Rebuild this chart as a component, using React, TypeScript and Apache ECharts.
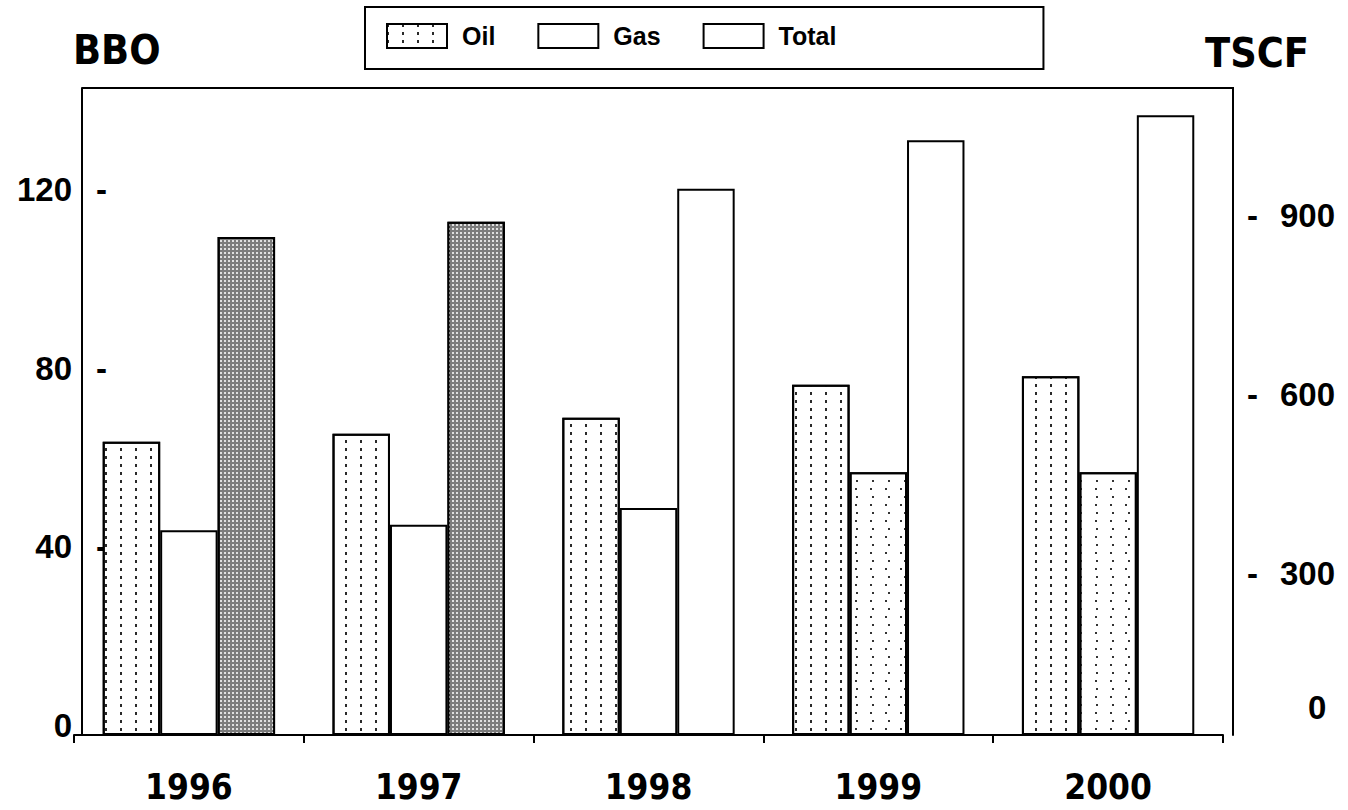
import React, { useEffect, useRef } from 'react';
import * as echarts from 'echarts';

const years = ['1996', '1997', '1998', '1999', '2000'];
const seriesNames = ['Oil', 'Gas', 'Total'];
const oilBBO = [65.7, 67.5, 71.1, 78.5, 80.4];
const gasBBOE = [45.9, 47.1, 50.9, 58.9, 58.9];
const totalBBOE = [111.6, 115.0, 122.4, 133.3, 138.9];
const gasDotted = [false, false, false, true, true];
const totalShaded = [true, true, false, false, false];
const leftMax = 145;
const leftInterval = 40;
const rightMax = 1084;
const rightInterval = 300;

const NUM_FONT = "'Liberation Sans', Arial, sans-serif";
const TITLE_FONT = "'DejaVu Sans Condensed', 'DejaVu Sans', sans-serif";

const oilDecal = {
  symbol: 'rect',
  symbolSize: 1,
  color: '#2a2a2a',
  dashArrayX: [2, 13],
  dashArrayY: [3, 5],
  rotation: 0,
};
const gasDecal = {
  symbol: 'rect',
  symbolSize: 1,
  color: '#333',
  dashArrayX: [[2, 13], [0, 7.5, 2, 5.5]],
  dashArrayY: [2, 5.5],
  rotation: 0,
};
const totalDecal = {
  symbol: 'rect',
  symbolSize: 1,
  color: '#e0e0e0',
  dashArrayX: [2, 2],
  dashArrayY: [2, 2],
  rotation: 0,
};

const numTok = { fontFamily: NUM_FONT, fontWeight: 'bold', fontSize: 33, color: '#000' };

export default function App() {
  const ref = useRef<HTMLDivElement>(null);
  useEffect(() => {
    if (!ref.current) return;
    const chart = echarts.init(ref.current, undefined, { renderer: 'svg' });
    const border = { borderColor: '#000', borderWidth: 2 };
    chart.setOption({
      animation: false,
      backgroundColor: '#fff',
      title: [
        {
          text: 'BBO', left: 73, top: 29, padding: 0,
          textStyle: { fontFamily: TITLE_FONT, fontWeight: 'bold', fontSize: 41, color: '#000' },
        },
        {
          text: 'TSCF', left: 1205, top: 32, padding: 0,
          textStyle: { fontFamily: TITLE_FONT, fontWeight: 'bold', fontSize: 41, color: '#000' },
        },
      ],
      legend: {
        data: seriesNames,
        left: 365,
        top: 7,
        orient: 'horizontal',
        icon: 'rect',
        itemWidth: 60,
        itemHeight: 24,
        itemGap: 42,
        padding: [16, 207, 20, 21],
        borderColor: '#000',
        borderWidth: 2,
        selectedMode: false,
        textStyle: {
          fontFamily: NUM_FONT, fontWeight: 'bold', fontSize: 25, color: '#000',
          padding: [0, 0, 0, 10], lineHeight: 24,
        },
      },
      grid: { left: 74, right: 125, top: 88, bottom: 75, containLabel: false },
      xAxis: {
        type: 'category',
        data: years,
        axisLine: { show: true, lineStyle: { color: '#000', width: 2 } },
        axisTick: { show: true, length: 8, lineStyle: { color: '#000', width: 2 } },
        axisLabel: {
          margin: 34,
          fontFamily: TITLE_FONT, fontWeight: 'bold', fontSize: 35, color: '#000',
        },
        splitLine: { show: false },
      },
      yAxis: [
        {
          type: 'value',
          min: 0,
          max: leftMax,
          interval: leftInterval,
          offset: -8,
          axisLine: { show: true, lineStyle: { color: '#000', width: 2 } },
          axisTick: { show: false },
          splitLine: { show: false },
          axisLabel: {
            showMaxLabel: false,
            margin: -25,
            align: 'right',
            padding: [0, 0, 20, 0],
            formatter: (v: number) => {
              if (v % leftInterval !== 0) return '';
              return v === 0 ? `{n|0}{s| }{e| }` : `{n|${v}}{s| }{d|-}`;
            },
            rich: {
              n: { ...numTok },
              d: { ...numTok },
              s: { ...numTok, width: 24 },
              e: { ...numTok, width: 11 },
            },
          },
        },
        {
          type: 'value',
          min: 0,
          max: rightMax,
          interval: rightInterval,
          position: 'right',
          offset: 10,
          axisLine: { show: true, lineStyle: { color: '#000', width: 2 } },
          axisTick: { show: false },
          splitLine: { show: false },
          axisLabel: {
            showMaxLabel: false,
            margin: 14,
            align: 'left',
            padding: [36, 0, 0, 0],
            formatter: (v: number) => {
              if (v % rightInterval !== 0) return '';
              return v === 0 ? `{z|0}` : `{d|-}{s| }{n|${v}}`;
            },
            rich: {
              n: { ...numTok },
              d: { ...numTok },
              s: { ...numTok, width: 22 },
              z: { ...numTok, padding: [0, 0, 92, 61] },
            },
          },
        },
      ],
      graphic: [
        {
          type: 'line',
          shape: { x1: 82, y1: 88, x2: 1234, y2: 88 },
          style: { stroke: '#000', lineWidth: 2 },
          silent: true,
        },
      ],
      series: [
        {
          name: 'Oil',
          type: 'bar',
          yAxisIndex: 0,
          barGap: '0%',
          barCategoryGap: '25%',
          itemStyle: { color: '#fff', ...border, decal: oilDecal },
          data: oilBBO,
        },
        {
          name: 'Gas',
          type: 'bar',
          yAxisIndex: 0,
          barGap: '0%',
          barCategoryGap: '25%',
          itemStyle: { color: '#fff', ...border },
          data: gasBBOE.map((v, i) =>
            gasDotted[i]
              ? { value: v, itemStyle: { color: '#fff', ...border, decal: gasDecal } }
              : { value: v }
          ),
        },
        {
          name: 'Total',
          type: 'bar',
          yAxisIndex: 0,
          barGap: '0%',
          barCategoryGap: '25%',
          itemStyle: { color: '#fff', ...border },
          data: totalBBOE.map((v, i) =>
            totalShaded[i]
              ? { value: v, itemStyle: { color: '#7c7c7c', ...border, decal: totalDecal } }
              : { value: v }
          ),
        },
      ],
    });
    return () => chart.dispose();
  }, []);
  return (
    <div
      ref={ref}
      style={{ position: 'fixed', left: 0, top: 0, width: 1348, height: 810, background: '#fff' }}
    />
  );
}
